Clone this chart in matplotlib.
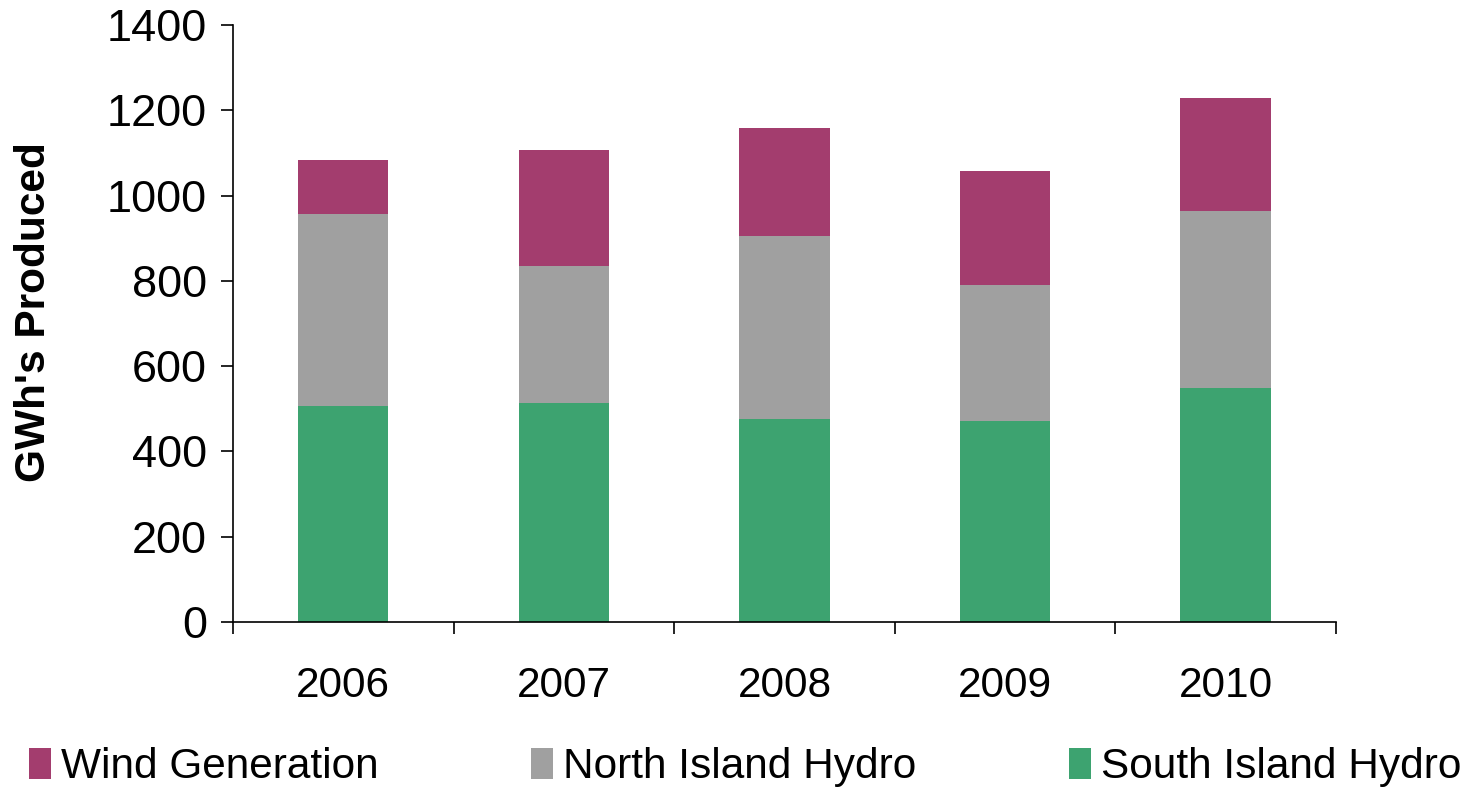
import numpy as np
import matplotlib.pyplot as plt

plt.rcParams['font.family'] = ['Liberation Sans', 'DejaVu Sans']

years = ["2006", "2007", "2008", "2009", "2010"]
south = [506, 513, 476, 471, 549]
north = [451, 322, 429, 319, 415]
wind = [126, 272, 254, 268, 265]

c_wind = "#A33D6E"
c_north = "#A0A0A0"
c_south = "#3DA370"

fig = plt.figure(figsize=(14.67, 7.91), dpi=100)
ax = fig.add_axes([0.1588, 0.2137, 0.7519, 0.7547])

x = np.arange(len(years))
w = 0.41
south = np.array(south)
north = np.array(north)
wind = np.array(wind)
ax.bar(x, south, w, color=c_south, label="South Island Hydro")
ax.bar(x, north, w, bottom=south, color=c_north, label="North Island Hydro")
ax.bar(x, wind, w, bottom=south + north, color=c_wind, label="Wind Generation")

ax.set_xlim(-0.5, len(years) - 0.5)
ax.set_ylim(0, 1400)
ax.set_yticks(range(0, 1401, 200))
ax.set_xticks(np.arange(-0.5, len(years), 1.0))
ax.set_xticklabels([])
ax.set_xticks(x, minor=True)
ax.set_xticklabels(years, minor=True)
ax.tick_params(axis='x', which='minor', length=0, pad=32, labelsize=30.5)
ax.tick_params(axis='x', which='major', length=8.6, width=1.2, direction='out')
ax.tick_params(axis='y', length=8.6, width=1.2, direction='out', labelsize=32.5, pad=10)
for s in ['top', 'right']:
    ax.spines[s].set_visible(False)
ax.spines['left'].set_linewidth(1.2)
ax.spines['bottom'].set_linewidth(1.2)
ax.set_ylabel("GWh's Produced", fontsize=30.5, fontweight='bold')
ax.yaxis.set_label_coords(-0.162, 0.519)

handles, labels = ax.get_legend_handles_labels()
leg = fig.legend(handles[::-1], labels[::-1], loc='center', ncol=3,
                 bbox_to_anchor=(0.508, 0.03), frameon=False, fontsize=30.5,
                 handlelength=0.52, handleheight=0.75, handletextpad=0.24,
                 columnspacing=3.6)

fig.savefig("out.png", dpi=100)
